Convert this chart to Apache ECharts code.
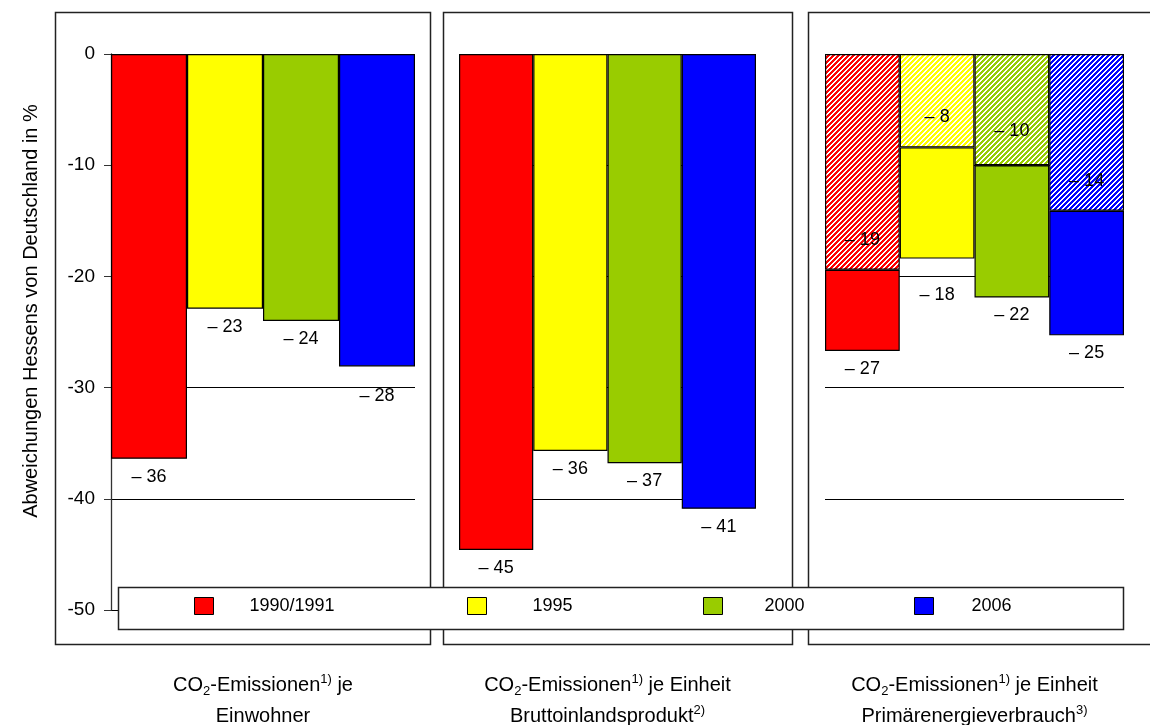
<!DOCTYPE html>
<html>
<head>
<meta charset="utf-8">
<script src="https://cdn.jsdelivr.net/npm/echarts@6/dist/echarts.min.js"></script>
<style>
  html, body { margin: 0; padding: 0; background: #fff; }
  #chart { width: 1150px; height: 725px; }
</style>
</head>
<body>
<div id="chart"></div>
<script>
// Years shown in the legend, one bar per year in every panel
const years = ['1990/1991', '1995', '2000', '2006'];

// Deviation of Hesse from Germany in %
const perInhabitant = [-36.4, -22.9, -24.0, -28.1];
const perGDP = [-44.6, -35.7, -36.8, -40.9];
const perPrimaryEnergyPart = [-19.4, -8.4, -10.0, -14.1];
const perPrimaryEnergyTotal = [-26.7, -18.4, -21.9, -25.3];

// Value axis ticks
const yTickValues = [0, -10, -20, -30, -40, -50];

// Panel captions (rich text markup for sub/superscripts)
const panelTitles = [
  'CO{sub|2}-Emissionen{sup|1)} je\nEinwohner',
  'CO{sub|2}-Emissionen{sup|1)} je Einheit\nBruttoinlandsprodukt{sup|2)}',
  'CO{sub|2}-Emissionen{sup|1)} je Einheit\nPrimärenergieverbrauch{sup|3)}'
];

const yAxisTitle = 'Abweichungen Hessens von Deutschland in %';

// ---- styling ----
const FONT = '"Liberation Sans", Arial, sans-serif';
const yearColors = ['#ff0000', '#ffff00', '#99cc00', '#0000ff'];
const yMax = Math.max(...yTickValues);
const yMin = Math.min(...yTickValues);
const yStep = yTickValues[0] - yTickValues[1];

const gridBoxes = [
  { left: 111, width: 304 },
  { left: 459, width: 297 },
  { left: 825, width: 299 }
];

function fmt(v) {
  return '\u2013 ' + Math.abs(Math.round(v));
}

// pixel-exact "/" stripes: white and the year colour alternate
function hatch(color) {
  const s = 5;
  const c = document.createElement('canvas');
  c.width = s; c.height = s;
  const ctx = c.getContext('2d');
  ctx.fillStyle = color;
  ctx.fillRect(0, 0, s, s);
  ctx.fillStyle = '#ffffff';
  for (let y = 0; y < s; y++) {
    for (let x = 0; x < s; x++) {
      if ((x + y) % s < 2) ctx.fillRect(x, y, 1, 1);
    }
  }
  return { image: c, repeat: 'repeat' };
}

const labelBase = { show: true, color: '#000', fontSize: 18, fontFamily: FONT };
const barBase = {
  type: 'bar',
  barGap: '0%',
  barCategoryGap: '0%',
  animation: false
};

// extra distance for a few labels that sit lower under their bars
const extraDistance = { '0-3': 12, '2-1': 18 };
const extraInside = { '2-2': 4 };

const series = [];
[perInhabitant, perGDP].forEach((values, g) => {
  years.forEach((name, i) => {
    series.push(Object.assign({}, barBase, {
      name,
      xAxisIndex: g,
      yAxisIndex: g,
      data: [values[i]],
      itemStyle: { color: yearColors[i], borderColor: '#000', borderWidth: 1.2 },
      label: Object.assign({}, labelBase, {
        position: 'bottom',
        distance: 9 + (extraDistance[g + '-' + i] || 0),
        formatter: p => fmt(p.value)
      })
    }));
  });
});

// third panel: hatched share from 0, solid remainder stacked below it
years.forEach((name, i) => {
  const stack = 'pev' + i;
  series.push(Object.assign({}, barBase, {
    name,
    stack,
    xAxisIndex: 2,
    yAxisIndex: 2,
    data: [perPrimaryEnergyPart[i]],
    itemStyle: { color: hatch(yearColors[i]), borderColor: '#000', borderWidth: 1.2 },
    label: Object.assign({}, labelBase, {
      position: 'insideBottom',
      distance: 21 + (extraInside['2-' + i] || 0),
      formatter: () => fmt(perPrimaryEnergyPart[i])
    })
  }));
  series.push(Object.assign({}, barBase, {
    name,
    stack,
    xAxisIndex: 2,
    yAxisIndex: 2,
    data: [perPrimaryEnergyTotal[i] - perPrimaryEnergyPart[i]],
    itemStyle: { color: yearColors[i], borderColor: '#000', borderWidth: 1.2 },
    label: Object.assign({}, labelBase, {
      position: 'bottom',
      distance: 9 + (extraDistance['2-' + i] || 0),
      formatter: () => fmt(perPrimaryEnergyTotal[i])
    })
  }));
});

const grids = gridBoxes.map(b => ({
  left: b.left, width: b.width, top: 54, height: 556,
  containLabel: false, outerBoundsMode: 'none'
}));

const xAxes = gridBoxes.map((b, g) => ({
  gridIndex: g,
  type: 'category',
  data: [panelTitles[g]],
  axisLine: { show: false },
  axisTick: { show: false },
  splitLine: { show: false },
  axisLabel: {
    interval: 0,
    margin: 60,
    color: '#000',
    fontSize: 20,
    lineHeight: 31,
    fontFamily: FONT,
    rich: {
      sub: { fontSize: 13, fontFamily: FONT, color: '#000', padding: [11, 0, 0, 0] },
      sup: { fontSize: 13, fontFamily: FONT, color: '#000', padding: [0, 0, 12, 0] }
    }
  }
}));

const splitLine = { show: true, lineStyle: { color: '#000', width: 1 } };
const yAxes = gridBoxes.map((b, g) => {
  const axis = {
    gridIndex: g,
    type: 'value',
    min: yMin,
    max: yMax,
    interval: yStep,
    splitLine,
    axisLine: { show: false },
    axisTick: { show: false },
    axisLabel: { show: false }
  };
  if (g === 0) {
    Object.assign(axis, {
      axisLine: { show: true, lineStyle: { color: '#333', width: 1.3 } },
      axisTick: { show: true, length: 7, lineStyle: { color: '#333', width: 1 } },
      axisLabel: { show: true, margin: 16, color: '#000', fontSize: 19, fontFamily: FONT },
      name: yAxisTitle,
      nameLocation: 'middle',
      nameGap: 70,
      nameTextStyle: { color: '#000', fontSize: 20, fontFamily: FONT, padding: [0, 0, 0, 42] }
    });
  }
  return axis;
});

// legend entries, each placed on its own
const legendLeft = [194, 467, 703, 914];
const legendTextPad = [31, 41, 37, 33];
const legends = years.map((name, i) => ({
  data: [{ name, itemStyle: { color: yearColors[i], borderColor: '#000', borderWidth: 1 } }],
  left: legendLeft[i],
  top: 597,
  padding: 0,
  icon: 'rect',
  itemWidth: 19,
  itemHeight: 17,
  z: 200,
  textStyle: { color: '#000', fontSize: 18, fontFamily: FONT, padding: [0, 0, 0, legendTextPad[i]] }
}));

const frameStyle = { fill: 'none', stroke: '#222', lineWidth: 1.5 };
const graphic = [
  { type: 'rect', silent: true, z: 1, shape: { x: 55.5, y: 12.5, width: 375, height: 632 }, style: frameStyle },
  { type: 'rect', silent: true, z: 1, shape: { x: 443.5, y: 12.5, width: 349, height: 632 }, style: frameStyle },
  { type: 'rect', silent: true, z: 1, shape: { x: 808.5, y: 12.5, width: 400, height: 632 }, style: frameStyle },
  { type: 'rect', silent: true, z: 100, shape: { x: 118.5, y: 587.5, width: 1005, height: 42 },
    style: { fill: '#fff', stroke: '#222', lineWidth: 1.5 } }
];

const chart = echarts.init(document.getElementById('chart'), null, { renderer: 'canvas' });
chart.setOption({
  backgroundColor: '#fff',
  animation: false,
  textStyle: { fontFamily: FONT },
  grid: grids,
  xAxis: xAxes,
  yAxis: yAxes,
  legend: legends,
  graphic,
  series
});
</script>
</body>
</html>
